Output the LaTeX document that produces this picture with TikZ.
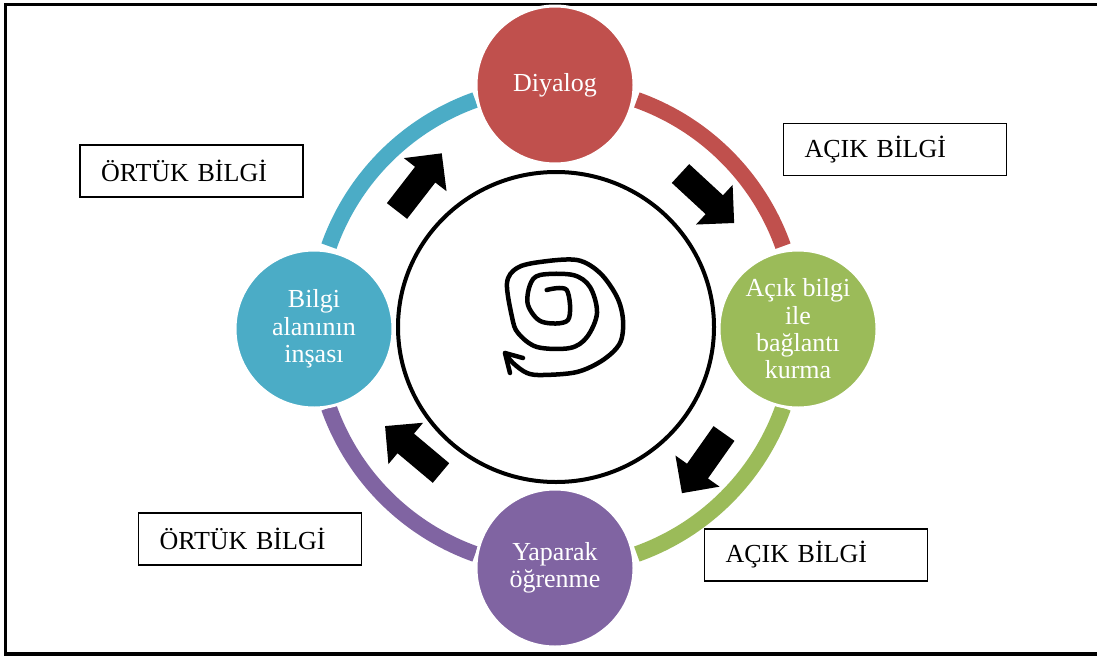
\documentclass[tikz,border=0pt]{standalone}
\usepackage{fontspec}
\setmainfont{Liberation Serif}
\definecolor{cRed}{HTML}{C0504D}
\definecolor{cGreen}{HTML}{9BBB59}
\definecolor{cPurple}{HTML}{8064A2}
\definecolor{cBlue}{HTML}{4BACC6}
\tikzset{
  stage/.style={circle, fill=#1, draw=white, line width=3pt, minimum size=158pt, inner sep=0pt,
    text=white, align=center, font=\fontsize{26}{27.3}\selectfont},
  lbl/.style={draw=black, line width=1.2pt, minimum height=52pt, inner xsep=21pt, inner ysep=0pt,
    text width=181pt, align=left, font=\fontsize{26}{28}\selectfont},
  ringarc/.style={line width=16pt, draw=#1},
}
\newcommand\blockarrow[2]{%
  \fill[black, shift={(#1)}, rotate=#2] (0,-12.8) -- (46,-12.8) -- (46,-27) -- (73,0) -- (46,27) -- (46,12.8) -- (0,12.8) -- cycle;}
\begin{document}
\begin{tikzpicture}[x=1pt, y=-1pt]
\useasboundingbox (0,0) rectangle (1097,656);
\fill[white] (0,0) rectangle (1097,656);
\draw[line width=3.5pt] (5.5,4.5) rectangle (1110,654);
\coordinate (c) at (556,327);
% ring arcs
\draw[ringarc=cRed]    (c) ++(-70.4:241) arc[start angle=-70.4, end angle=-19.6, radius=241];
\draw[ringarc=cGreen]  (c) ++(19.6:241) arc[start angle=19.6, end angle=70.4, radius=241];
\draw[ringarc=cPurple] (c) ++(109.6:241) arc[start angle=109.6, end angle=160.4, radius=241];
\draw[ringarc=cBlue]   (c) ++(199.6:241) arc[start angle=199.6, end angle=250.4, radius=241];
% stage circles
\node[stage=cRed]    (dia) at (555,85)  {Diyalog};
\node[stage=cGreen]  (acik) at (798,329) {Açık bilgi\\ile\\bağlantı\\kurma};
\node[stage=cPurple] (yap) at (555,568) {Yaparak\\öğrenme};
\node[stage=cBlue]   (bil) at (314,329) {Bilgi\\alanının\\inşası};
% inner circle
\draw[line width=4pt] (c) ellipse[x radius=158, y radius=155];
% block arrows
\blockarrow{397,211}{52.2}
\blockarrow{680.5,173.5}{-42.7}
\blockarrow{724,433.5}{-125.2}
\blockarrow{441,473}{140}
% spiral
\draw[line width=4.5pt, line cap=round, line join=round] plot[smooth, tension=0.55] coordinates {
 (546.7,290) (566.7,290) (568,320) (541.7,321.7) (528,305) (530,285) (540,275) (573,275) (590,287)
 (597,313) (587,337) (570,348) (537,347) (518,333) (512,317) (507,283) (517,268) (540,262) (577,260)
 (600,273) (617,297) (623,320) (620,343) (603,360) (577,372) (543,375) (527,373) (513,363) (505,353)};
\draw[line width=4.5pt, line cap=round, line join=round] (510,373) -- (505,353) -- (523,358);
% labels
\node[lbl] (o1) at (191.5,171) {ÖRTÜK BİLGİ};
\node[lbl] (a1) at (895,149.5) {AÇIK BİLGİ};
\node[lbl] (a2) at (816,555) {AÇIK BİLGİ};
\node[lbl] (o2) at (250,539) {ÖRTÜK BİLGİ};
\end{tikzpicture}
\end{document}
